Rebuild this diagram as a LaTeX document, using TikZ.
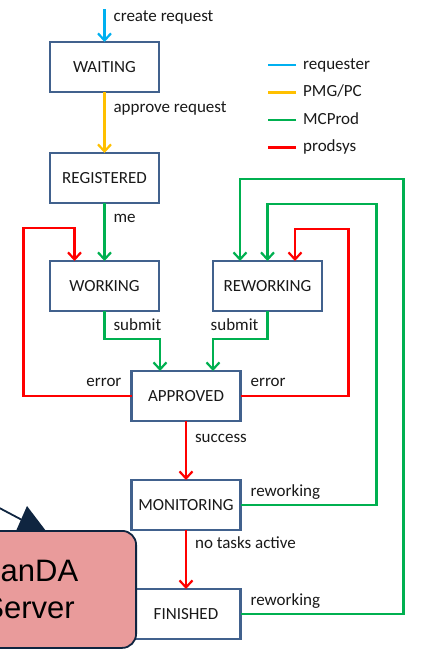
\documentclass[tikz,border=0pt]{standalone}
\usepackage{fontspec}
\setmainfont{Carlito}
\newfontfamily\pandafont{Liberation Sans}
\usetikzlibrary{positioning}
\usetikzlibrary{arrows.meta}

\definecolor{boxblue}{RGB}{65,97,141}
\definecolor{reqblue}{RGB}{0,176,240}
\definecolor{pmgyellow}{RGB}{255,192,0}
\definecolor{prodgreen}{RGB}{0,176,80}
\definecolor{sysred}{RGB}{255,0,0}
\definecolor{pandafill}{RGB}{233,155,155}
\definecolor{pandaline}{RGB}{15,37,64}

\begin{document}
\begin{tikzpicture}[
	  x=1pt, y=-1pt,
	  every node/.style = {font=\fontsize{17}{20}\selectfont, text=black!90},
	  state/.style = {shape=rectangle, draw=boxblue, line width=2.2pt, fill=white, minimum width=109pt, minimum height=50pt, inner sep=0pt, outer sep=0pt},
	  lbl/.style = {inner sep=0pt},
	  flow/.style = {line width=2.2pt, -{Straight Barb[length=7pt,width=13pt]}},
	  req/.style = {flow, draw=reqblue},
	  pmg/.style = {flow, draw=pmgyellow},
	  mcprod/.style = {flow, draw=prodgreen},
	  prodsys/.style = {flow, draw=sysred},
	  node distance=59pt
	]
	  \useasboundingbox (0,0) rectangle (424,649);
	  \clip (0,0) rectangle (424,649);

	  % states
	  \node[state] (waiting) at (104.5,67) {WAITING};
	  \node[state, below=61pt of waiting] (registered) {REGISTERED};
	  \node[state, below=58pt of registered] (working) {WORKING};
	  \node[state, right=54pt of working] (reworking) {REWORKING};
	  \node[state] (approved) at (186,396) {APPROVED};
	  \node[state, below=of approved] (monitoring) {MONITORING};
	  \node[state, below=of monitoring] (finished) {FINISHED};

	  % transitions
	  \coordinate (start) at (104.5,9);
	  \draw[req] (start) -- node[lbl, pos=0.39, anchor=base west, xshift=8pt] (lcreate) {create request} (waiting);
	  \draw[pmg] (waiting) -- node[lbl, pos=0.33, anchor=base west, xshift=8pt] (lapprove) {approve request} (registered);
	  \draw[mcprod] (registered) -- node[lbl, pos=0.34, anchor=base west, xshift=8pt] (lme) {me} (working);
	  \draw[mcprod] (working.south) -- node[lbl, pos=0.68, anchor=base west, xshift=8pt] (lsubl) {submit} ++(0,28) -| ([xshift=-26pt]approved.north);
	  \draw[mcprod] (reworking.south) -- node[lbl, pos=0.68, anchor=base east, xshift=-8pt] (lsubr) {submit} ++(0,28) -| ([xshift=27pt]approved.north);
	  \draw[prodsys] (approved.west) -- node[lbl, pos=0, anchor=base east, xshift=-9pt, yshift=10pt] (lerrl) {error} ++(-108,0) |- ([xshift=-30pt, yshift=33pt]working.north) -- ([xshift=-30pt]working.north);
	  \draw[prodsys] (approved.east) -- node[lbl, pos=0, anchor=base west, xshift=9pt, yshift=10pt] (lerrr) {error} ++(108,0) |- ([xshift=27.5pt, yshift=32pt]reworking.north) -- ([xshift=27.5pt]reworking.north);
	  \draw[prodsys] (approved) -- node[lbl, pos=0.36, anchor=base west, xshift=8pt] (lsuccess) {success} (monitoring);
	  \draw[prodsys] (monitoring) -- node[lbl, pos=0.32, anchor=base west, xshift=8pt] (lnotasks) {no tasks active} (finished);
	  \draw[mcprod] (monitoring.east) -- node[lbl, pos=0, anchor=base west, xshift=9pt, yshift=9pt] (lrewm) {reworking} ++(136,0) |- ([yshift=57pt]reworking.north) -- (reworking.north);
	  \draw[mcprod] (finished.east) -- node[lbl, pos=0, anchor=base west, xshift=9pt, yshift=9pt] (lrewf) {reworking} ++(163,0) |- ([xshift=-27.5pt, yshift=82pt]reworking.north) -- ([xshift=-27.5pt]reworking.north);

	  % legend
	  \foreach \col/\name [count=\i] in {reqblue/requester, pmgyellow/{PMG/PC}, prodgreen/MCProd, sysred/prodsys} {
		\node[lbl, anchor=base west] (leg\i) at (303, 41.5+27.5*\i) {\name};
		\draw[\col, line width=2.2pt] ([xshift=-7pt, yshift=4pt]leg\i.base west) -- ++(-28,0);
	  }

	  % server callout
	  \node[draw=pandaline, fill=pandafill, line width=1.8pt, rounded corners=14pt, minimum width=214pt, minimum height=117pt, anchor=north east, align=center, font=\pandafont\fontsize{31}{37}\selectfont, text=black] (panda) at (137,530) {PanDA\\Server};
	  \draw[pandaline, line width=1.8pt] (-10,503) -- (24,521);
	  \fill[pandaline] (27,506) -- (46,531) -- (16,531) -- cycle;
	\end{tikzpicture}
\end{document}
